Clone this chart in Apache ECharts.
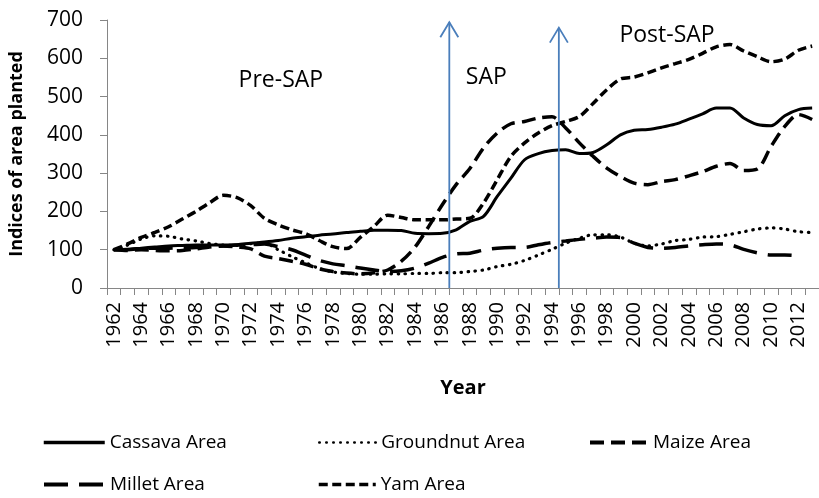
<!DOCTYPE html>
<html lang="en">
<head>
<meta charset="UTF-8">
<title>Indices of area planted</title>
<style>
  *{margin: 0; padding: 0; box-sizing: border-box;}
  body{background: #fff;}
  #view{width: 819px; height: 498px;}
</style>
</head>
<body>
<div id="view"></div>
<script src="https://cdn.jsdelivr.net/npm/echarts@6/dist/echarts.min.js"></script>
<script>
// years on the x axis
const years = [];
for (let y = 1962; y <= 2013; y++) years.push(String(y));

const cassava = [100,101,104,107,110,111,112,112,112,113,117,120,124,130,134,138,141,145,148,151,
  151,150,143,142,143,152,174,187,239,287,335,351,359,361,351,354,374,400,412,414,
  420,428,441,455,470,470,444,427,424,450,466,470];
const groundnut = [100,112,128,136,135,128,123,116,112,111,116,118,100,82,66,51,42,38,36,36,
  37,37,38,38,40,40,43,47,56,62,72,86,101,117,130,139,139,133,117,110,
  115,124,127,133,134,140,147,154,157,154,147,145];
const maize = [100,98,100,98,97,98,102,107,110,107,102,83,77,70,62,50,43,39,37,40,
  47,70,107,161,218,270,312,366,405,429,435,444,447,418,379,344,313,291,274,270,
  278,283,293,304,318,325,307,311,370,422,453,440];
const millet = [100,100,103,104,104,105,106,108,110,112,113,115,108,100,86,72,63,58,52,47,
  43,45,52,65,80,89,91,99,104,106,106,113,119,123,127,130,133,132,117,106,
  104,106,110,113,115,113,101,92,86,86,84,null];
const yam = [100,115,132,145,160,180,200,223,242,236,215,182,165,152,142,124,108,103,132,161,
  190,184,178,178,178,180,182,222,283,344,379,405,424,435,448,482,518,546,551,562,
  575,586,597,613,630,636,619,604,591,598,621,632];

// period arrows: [year position, top value]
const arrows = [[1986.5, 694], [1994.5, 680]];
// period labels: [text, year position, value]
const periods = [['Pre-SAP', 1974.2, 542], ['SAP', 1989.2, 550], ['Post-SAP', 2002.4, 660]];

const FONT = 'Open Sans';
const axisGrey = '#868686';

function line(name, data, dash, w, cap) {
  return {
    name: name, type: 'line', data: data, smooth: 0.3,
    symbol: 'none', connectNulls: false,
    lineStyle: {color: '#000', width: w, type: dash, cap: cap || 'butt'},
    itemStyle: {color: '#000'}
  };
}

function legendAt(name, left, top, w, lw) {
  return {
    data: [name], left: left, top: top, itemWidth: w, itemHeight: 14,
    itemStyle: {opacity: 0},
    lineStyle: {width: lw},
    textStyle: {fontFamily: FONT, fontSize: 19, color: '#000'}
  };
}

const chart = echarts.init(document.getElementById('view'));
chart.setOption({
  animation: false,
  grid: {left: 101.7, right: -4, top: 20, bottom: 210},
  xAxis: [{
    type: 'category', data: years, boundaryGap: true,
    axisLine: {lineStyle: {color: axisGrey}},
    axisTick: {show: true, interval: 0, length: 7, lineStyle: {color: axisGrey}},
    axisLabel: {interval: 1, rotate: 90, margin: 14, color: '#000', fontFamily: FONT, fontSize: 20},
    name: 'Year', nameLocation: 'middle', nameGap: 90,
    nameTextStyle: {fontFamily: FONT, fontSize: 20, fontWeight: 'bold', color: '#000'}
  }, {
    type: 'value', min: 1961.5, max: 2013.5, show: false
  }],
  yAxis: {
    type: 'value', min: 0, max: 700, interval: 100,
    splitLine: {show: false},
    axisLine: {show: true, lineStyle: {color: axisGrey}},
    axisTick: {show: true, length: 7, lineStyle: {color: axisGrey}},
    axisLabel: {margin: 24, color: '#000', fontFamily: FONT, fontSize: 21},
    name: 'Indices of area planted', nameLocation: 'middle', nameGap: 81, nameRotate: 90,
    nameTextStyle: {fontFamily: FONT, fontSize: 18, fontWeight: 'bold', color: '#000'}
  },
  legend: [
    legendAt('Cassava Area', 37, 428, 61, 3.5),
    legendAt('Groundnut Area', 313, 428, 57, 2.5),
    legendAt('Maize Area', 583, 428, 58, 4),
    legendAt('Millet Area', 37, 470, 61, 4),
    legendAt('Yam Area', 312, 470, 57, 3.5)
  ],
  series: [
    line('Cassava Area', cassava, 'solid', 3),
    line('Groundnut Area', groundnut, [0.5, 6.5], 3.2, 'round'),
    line('Maize Area', maize, [14, 7], 3.5),
    line('Millet Area', millet, [24, 11], 3.5),
    line('Yam Area', yam, [9, 4.5], 3.5)
  ]
});

// arrows and period labels placed through the axes
const graphics = [];
arrows.forEach(function (a) {
  const x = chart.convertToPixel({xAxisIndex: 1}, a[0]);
  const yTop = chart.convertToPixel({yAxisIndex: 0}, a[1]);
  const yBot = chart.convertToPixel({yAxisIndex: 0}, 0);
  graphics.push({type: 'line', z: 100, shape: {x1: x, y1: yBot, x2: x, y2: yTop},
    style: {stroke: '#4a7ebb', lineWidth: 1.8}});
  graphics.push({type: 'polyline', z: 100, shape: {points: [[x - 9, yTop + 15], [x, yTop], [x + 9, yTop + 15]]},
    style: {stroke: '#4a7ebb', lineWidth: 1.8, fill: null}});
});
periods.forEach(function (p) {
  const x = chart.convertToPixel({xAxisIndex: 1}, p[1]);
  const y = chart.convertToPixel({yAxisIndex: 0}, p[2]);
  graphics.push({type: 'text', z: 100, x: x, y: y,
    style: {text: p[0], fontFamily: FONT, fontSize: 23, fill: '#000', align: 'center', verticalAlign: 'middle'}});
});
chart.setOption({graphic: graphics});
</script>
</body>
</html>
